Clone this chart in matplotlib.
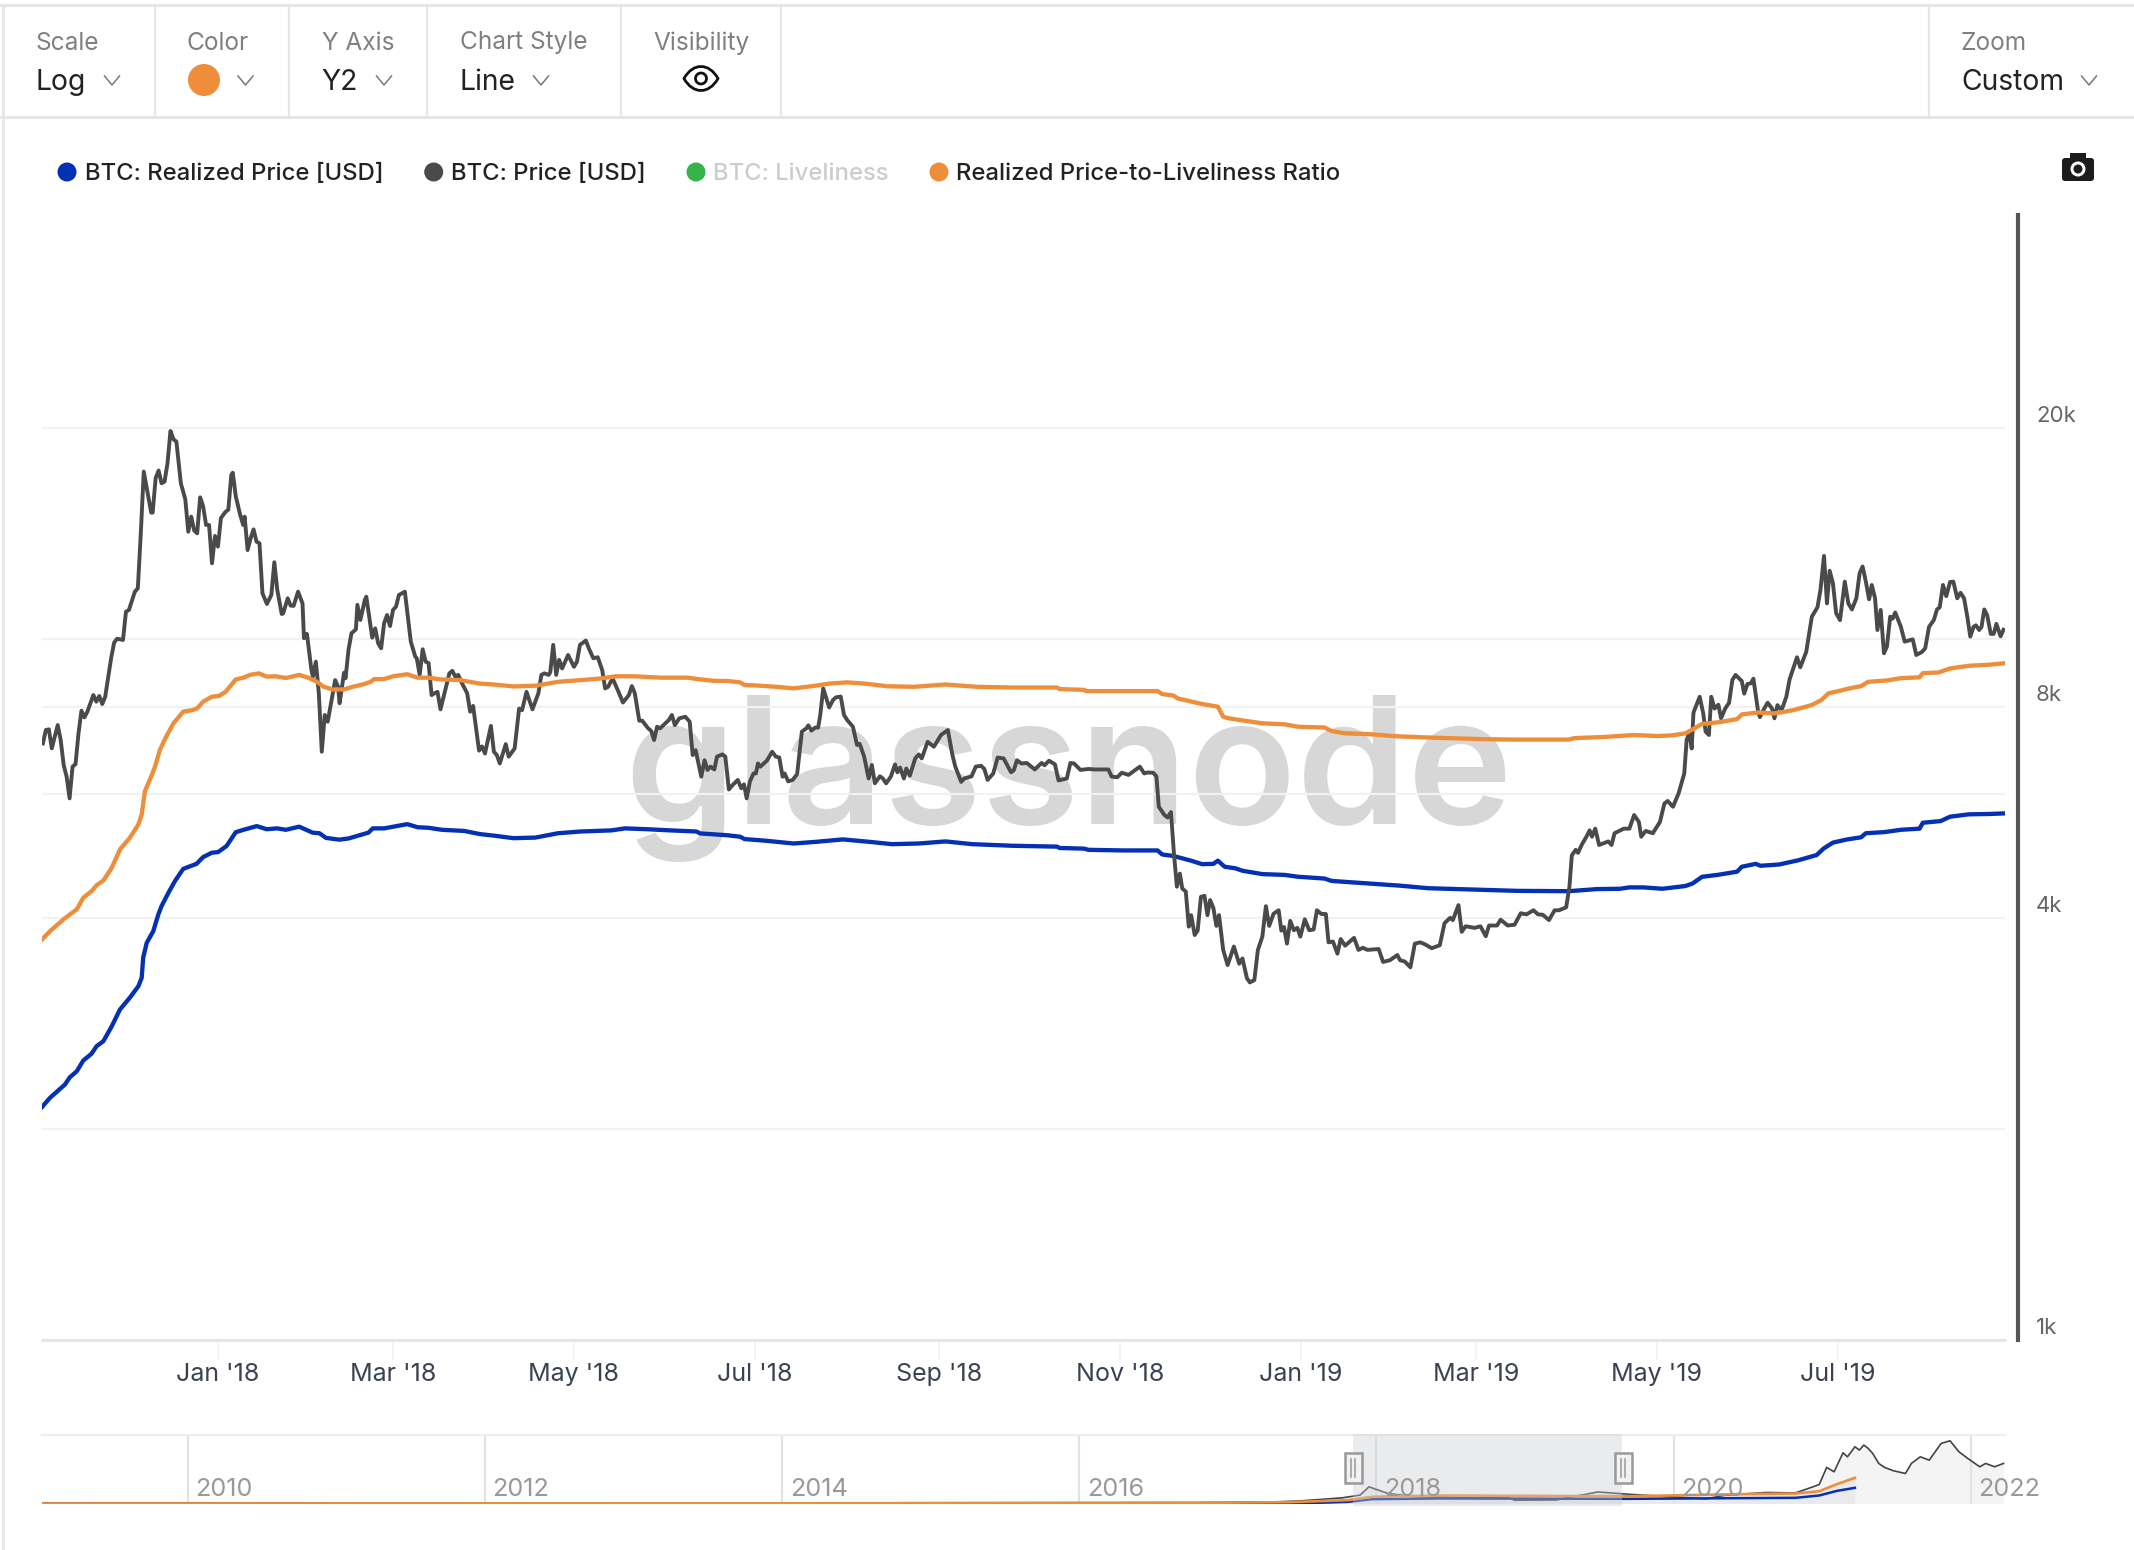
import matplotlib
matplotlib.use("Agg")
import matplotlib.pyplot as plt
import numpy as np
import pandas as pd
from matplotlib.patches import Rectangle, Circle, FancyBboxPatch, PathPatch
from matplotlib.path import Path
from matplotlib.ticker import FixedLocator, NullFormatter, NullLocator

plt.rcParams['font.family'] = ['Inter', 'DejaVu Sans']

price_days = [-59,-58,-57,-56,-54,-53,-52,-51,-50,-49,-48,-47,-46,-45,-44,-42,-41,-40,-39,-38,-36,-35,-34,-32,-31,-30,-28,-27,-26,-25,-23.5,-22.5,-22,-21,-20,-19,-18,-17,-16,-15,-14,-12.5,-11,-10,-9,-8,-7,-6,-5,-4,-3,-2,-1,0,1,2.5,3.5,4.5,5,6,7.5,8.5,9,10,11,12,13,14,15,16.5,18,19,20,21.5,22,23.5,24.5,25.5,27,28.5,29,30,31.5,32,33,34,35,36,37,39.5,40.5,41,42.5,43,44,45,46.5,47,48,49.5,50,52,53,54,55,56,57,58,59,60,61,63,64,65,66.5,67,68,69,70,71,72,73,74,75,78,79,80,81,82,84,85,86,87.5,88,89,90,92,93,94,95,97,98,100,101.5,102.5,104,106,108,109,110,111.5,112,113,114,115,116,118,120,121,122,124,125,126.5,128,129.5,130.5,131.5,133,135,136.5,138.5,139.5,140.5,142,143,145,146,147,148,149,152,153,154,155.5,157.5,159,160,161,
 162.9,164,165,166,167.3,168.2,170,171,172.2,173.3,175.2,176.4,177.3,178.2,179.3,180.5,181.3,182,182.8,185,186.8,188,189.2,190.3,191,192.2,193.7,195.2,196.8,198.3,199,200,201.3,202.3,203,204,206,207.3,208.3,209.9,211,212.1,214,215.4,216.3,217.8,219.3,220.4,221.4,223.1,224.1,225.2,226.8,228.2,229,229.9,231.2,232,233.2,235,236.2,237.2,239.2,241.3,243.7,246,247.5,248.5,249.4,250.5,251.5,254,255.4,257.2,258.3,259.4,261.3,262.8,264.8,267.3,268.2,269.3,270.8,272.6,275.3,277.6,278.6,280.1,282.1,283.3,286.1,287.3,288.5,290.7,293.4,295.6,300.1,301.2,303.1,304.6,306.9,310.7,312.2,313.2,315.2,316.3,317.1,319,320.1,321.2,322.2,323.2,324.2,325,326.2,327.2,328,329.2,330.2,331.3,332.5,333.5,334.4,335.5,336.5,337.4,338.8,340.3,342.4,344.2,345.3,346.8,347.8,349.3,350.5,352,353.2,354.3,355.8,357.5,358.4,359.3,360.3,361.4,362.6,363.8,364.8,366.3,367.8,369.3,370.4,371.9,373.4,374.3,375.8,377.3,378.4,379.9,382.9,384.4,385.9,387.4,391.2,392.7,395,397.5,
 398.4,400,401.9,403.4,405.2,406.6,409.1,411.8,413.4,415.3,416.2,418.1,419.2,420.5,423.6,425.5,427.3,428.4,431.1,432.3,434.7,437,439.1,441,443.4,444.9,446.5,448.6,450.5,452,454.4,455.5,456.3,457.6,458.4,459.6,461.2,462.3,463.1,464.2,465.5,468.6,469.7,470.7,473.8,475.7,477.3,478.9,479.7,481.2,483.6,486,487.5,488.6,490.4,492.3,494.2,495,495.9,496.7,497.3,499.4,500.6,501.4,502.5,503.3,504.4,505.7,506.6,508,509.3,510.4,511.5,513.6,514.4,515.5,516.7,517.5,519.1,519.7,520.4,522.3,523.8,524.6,525.6,527,528.6,529.7,532.2,533.3,535.3,537.2,539.1,540.1,541.3,542.3,543.2,544.3,545.4,546.7,548.3,549.5,550.7,552.2,553.3,554.3,555.4,556.5,557.4,558.5,559.3,560.4,561.5,562.5,563.6,564.4,565.3,567.2,568.5,571.2,572.4,574.3,575.4,576.7,578.3,579.4,580.3,581.4,582.5,583.8,584.9,586.2,587.3,588.5,589.6,590.6,591.7,592.5,593.6,594.4,595.3,596.3,597.5,598.5,599.4,600.8,601.8]
price_usd = [7091,7410,7427,6976,7532,7170,6606,6357,5921,6569,6626,7329,7895,7724,7870,8312,8133,8286,8070,8267,9378,9871,10000,9960,10930,10990,11672,11800,14136,17312,15960,15130,15130,16940,17370,16660,16750,17790,19780,19250,19100,16660,15800,14210,14930,14260,14136,15910,15450,14530,14530,12810,14014,13530,14860,15160,15280,17120,17250,15970,15015,14530,14930,13380,13900,14320,13755,13680,11610,11210,11545,12855,11735,10845,10870,11420,11150,11140,11670,11230,10015,10160,9025,8830,9275,8360,6900,7785,7615,8730,8540,8090,8945,8780,9640,10180,10315,11175,10635,11355,11480,10035,10345,9850,9690,10520,10810,10425,10990,11110,11545,11670,10750,9905,9430,9380,8880,9660,9275,9230,8310,8360,8400,7930,8925,9000,8830,8880,8680,8360,7870,8020,7170,6925,7020,6860,7510,6900,6825,6640,7075,6790,6976,7950,7910,8400,7930,8360,8880,8925,8880,8960,9800,8880,9330,9070,9480,9120,9275,9800,9940,9690,9380,9410,9025,8495,8540,8780,8400,8110,8310,8560,8360,7640,7640,7450,7390,7170,7490,7450,7660,7785,7530,7700,7740,7615,6825,6936,
 6357,6710,6500,6570,6510,6790,6840,6790,6095,6175,6290,6120,6200,5920,6260,6425,6425,6640,6570,6700,6900,6790,6770,6357,6425,6260,6290,6410,7370,7450,7525,7395,7470,7470,7785,8496,7980,8177,8250,8270,7785,7655,7490,7055,7080,6790,6320,6606,6220,6365,6320,6220,6360,6620,6450,6550,6320,6530,6380,6750,6840,6750,7130,7015,7290,7410,6840,6575,6425,6250,6320,6365,6570,6590,6520,6290,6425,6770,6750,6450,6490,6710,6640,6650,6510,6650,6600,6700,6620,6280,6320,6650,6640,6500,6520,6510,6510,6360,6345,6440,6395,6570,6425,6445,6440,6365,5760,5605,5560,5660,4940,4430,4625,4405,4360,3885,4035,3780,3835,4285,4300,4035,4240,4130,3895,4035,3600,3425,3640,3440,3500,3280,3235,3260,3600,3760,4155,3895,4055,4100,3835,3880,3675,3960,3840,3870,3760,3980,3840,3850,4100,4050,4050,3690,3700,3555,3730,3650,3745,3600,3625,3600,3610,3460,3480,3540,
 3480,3465,3400,3675,3690,3670,3620,3655,3930,4000,3970,4170,3820,3890,3870,3890,3765,3900,3900,3975,3900,3910,4060,4045,4100,4045,4040,3970,4100,4100,4140,4430,4910,5000,4950,5080,5218,5330,5220,5360,5080,5140,5080,5280,5360,5360,5605,5480,5220,5320,5280,5480,5820,5870,5760,6020,6425,7170,7355,6975,7845,8265,7825,7370,7290,8265,7950,8050,7700,7950,8105,8730,8880,8700,8350,8620,8640,8770,7870,7730,7850,8105,7950,7700,8040,7910,8265,8750,9410,9105,9575,10750,11090,11735,13125,11230,12500,12000,10870,10630,12060,11230,11010,11420,12400,12675,12060,11380,11930,11420,10290,10990,9535,9745,10750,10680,10900,10400,9905,9980,9480,9575,9690,10400,10630,11010,11090,11930,11500,12050,12060,11420,11630,11420,10750,10070,10400,10450,10290,10400,11010,10800,10160,10160,10500,10080,10300]

ratio_days = [-59.3,-56.6,-52.1,-49.9,-47.6,-45.4,-42.6,-40.9,-38.6,-35.8,-33,-29.7,-26.8,-25.7,-24.6,-22.9,-21.2,-19.6,-17.5,-15,-11.7,-8.7,-7,-5,-2,0.3,2.6,6,8.6,10.8,13.8,16.4,19.4,22.9,27.4,30.4,33.4,35.7,38.7,42.4,45.4,49.2,51.5,52.7,56,59,63.8,67.3,71,74.8,81.6,88.3,93.6,99.6,107,114.6,122.2,128.2,134.2,140.2,149.3,158.3,
 162.5,167,171.5,176,177.5,182,188,194,200,206,212,218,225.6,234.7,245.2,255.7,267.8,282.8,283.7,291.9,292.6,300.9,316.7,318.2,322,323.5,331.7,337,338.8,340.8,344.5,352,359.5,364,373,375.3,379.9,388,397.1,
 407.9,417.3,426.8,437.8,455.2,457.1,467.8,477.3,485.2,489.9,494.6,497,500.2,505.7,512,513.6,519.1,524.6,531,537.2,540.4,542.8,546.7,549.9,553.8,556.2,562.5,567.2,573.5,574.6,579.8,583.8,590.1,597.2,601.9]
ratio_usd = [3725,3828,3978,4044,4111,4272,4365,4451,4521,4714,5007,5201,5435,5617,6064,6302,6570,6935,7245,7575,7870,7910,7955,8133,8267,8286,8400,8750,8800,8880,8925,8830,8840,8790,8880,8800,8680,8540,8465,8465,8540,8615,8680,8760,8760,8840,8900,8800,8800,8750,8730,8630,8600,8550,8570,8680,8730,8770,8840,8840,8800,8800,
 8750,8710,8705,8665,8590,8575,8540,8496,8555,8630,8665,8630,8555,8540,8605,8540,8520,8520,8475,8455,8420,8420,8420,8340,8300,8220,8070,8000,7740,7700,7655,7575,7550,7490,7470,7385,7330,7310,7260,
 7230,7210,7190,7180,7180,7215,7245,7290,7265,7280,7330,7425,7560,7600,7680,7800,7850,7825,7910,8045,8175,8360,8430,8495,8560,8680,8720,8785,8810,8930,8950,9070,9150,9185,9225]

realized_days = [-59.3,-56.6,-51.6,-49.9,-47.6,-45.4,-42.6,-40.9,-38.6,-35.8,-33,-29.7,-26.8,-25.7,-25.2,-24,-21.8,-20.1,-19,-16.7,-14.5,-11.7,-7.2,-5,-2.1,0.1,2.9,6,8.6,13.1,16.4,19.9,22.9,27.4,31.9,34.2,36.4,40.9,44,50.7,52.2,56,63.8,67.3,71,75.5,83,88.3,93.6,99.6,107,114.6,122.2,132.7,137.2,144.7,152.3,161.3,
 162.5,171.5,176,177.5,185,194,201.6,210.6,219.6,227.1,236.2,245.2,254.2,267.8,282.8,283.7,291.9,293.4,305.4,316.7,318.2,322,328,331.7,335.5,337,339.3,343,345.3,352,359.5,364,373,375.3,388,398.4,
 407.9,422,437.8,455.2,464.7,472.6,475.7,480.4,486.8,494.6,497,500.2,505.7,512,513.6,518.3,519.9,526.2,532.5,538.8,541.2,544.3,549,553.8,555.4,561.7,567.2,573.5,574.6,580.6,583.8,590.1,597.2,601.9]
realized_usd = [2149,2215,2313,2370,2416,2503,2560,2624,2668,2801,2961,3077,3196,3285,3509,3685,3828,4044,4157,4342,4512,4697,4776,4882,4952,4964,5064,5298,5340,5405,5350,5365,5340,5395,5290,5280,5200,5170,5190,5290,5365,5365,5440,5385,5375,5340,5320,5265,5235,5195,5205,5280,5310,5330,5365,5350,5330,5310,
 5277,5246,5220,5180,5150,5105,5133,5174,5133,5094,5105,5140,5094,5067,5053,5030,5020,5000,4990,4990,4925,4900,4825,4770,4775,4825,4730,4705,4668,4617,4605,4577,4550,4515,4477,4445,
 4408,4390,4370,4365,4395,4400,4420,4420,4400,4440,4477,4576,4607,4654,4730,4775,4745,4765,4830,4915,5023,5120,5173,5210,5280,5300,5340,5360,5465,5495,5575,5618,5625,5635]

y_grid = [1000, 2000, 4000, 6000, 8000, 10000, 20000]
y_labels = {1000: '1k', 4000: '4k', 8000: '8k', 20000: '20k'}
x_tick_dates = ['2018-01-01','2018-03-01','2018-05-01','2018-07-01','2018-09-01','2018-11-01','2019-01-01','2019-03-01','2019-05-01','2019-07-01']
x_tick_labels = ["Jan '18","Mar '18","May '18","Jul '18","Sep '18","Nov '18","Jan '19","Mar '19","May '19","Jul '19"]

nav_price_years = [2009.02,2013.0,2014.0,2015.5,2016.81,2017.33,2017.49,2017.65,2017.77,2017.89,2017.95,2018.01,2018.08,2018.25,2018.57,2018.89,2018.93,2019.21,2019.49,2019.69,2019.98,2020.22,2020.34,2020.62,2020.82,2020.94,2020.98,2021.03,2021.08,2021.14,2021.17,2021.22,2021.25,2021.28,2021.31,2021.34,2021.38,2021.42,2021.48,2021.56,2021.6,2021.66,2021.72,2021.8,2021.86,2021.92,2021.98,2022.06,2022.1,2022.16,2022.22]
nav_price_usd = [0,100,500,250,700,1800,2800,4650,6100,9000,17900,14500,10700,7500,6500,6200,3500,3800,12400,10000,7200,5000,8700,11800,11400,18000,20400,38700,34000,54400,50100,60900,57300,62700,59000,53700,43000,38700,35100,32200,43000,50100,46500,64400,67300,55500,48300,39400,43000,39400,43000]
nav_ratio_years = [2009.02,2014.0,2016.81,2017.41,2017.81,2017.97,2018.42,2019.70,2020.42,2020.82,2020.98,2021.1,2021.22]
nav_ratio_usd = [50,250,700,1400,3580,7160,8590,7800,10000,10700,13200,20800,27500]
nav_realized_years = [2009.02,2014.0,2017.61,2017.81,2017.97,2018.42,2019.7,2020.82,2020.98,2021.1,2021.22]
nav_realized_usd = [0,150,700,1790,4650,5400,5000,6090,8590,13600,16800]
nav_year_ticks = [2010,2012,2014,2016,2018,2020,2022]

# ---- styles ----
W, H = 2134, 1550
BLUE, DARK, GREEN, ORANGE = '#0431b4', '#4a4a4a', '#36b44a', '#ee8e3a'
LINE = '#e6e6e6'; GRID = '#f2f2f2'
FS = 17.2

def to_dates(days):
    return pd.Timestamp('2018-01-01') + pd.to_timedelta(np.asarray(days, float), unit='D')

def rect(x0, y0, x1, y1):
    return [x0 / W, 1 - y1 / H, (x1 - x0) / W, (y1 - y0) / H]

fig = plt.figure(figsize=(W / 100, H / 100), dpi=100, facecolor='white')

# ---- UI overlay, in image pixels ----
ui = fig.add_axes([0, 0, 1, 1], zorder=0)
ui.set_xlim(0, W); ui.set_ylim(H, 0); ui.axis('off')
ui.plot([0, W], [5, 5], color=LINE, lw=2.2)
ui.plot([0, W], [117, 117], color=LINE, lw=2.2)
ui.plot([3, 3], [5, H], color=LINE, lw=2.0)
for xd in [155, 289, 427, 620.5, 781, 1929]:
    ui.plot([xd, xd], [5, 117], color=LINE, lw=1.6)
for x, lab in [(35.5, 'Scale'), (187, 'Color'), (321.5, 'Y Axis'), (460, 'Chart Style'), (653, 'Visibility'), (1961, 'Zoom')]:
    ui.text(x, 43, lab, fontsize=17.6, color='#808080', va='center', ha='left')
for x, lab in [(36, 'Log'), (321.5, 'Y2'), (460, 'Line'), (1961, 'Custom')]:
    ui.text(x, 82.5, lab, fontsize=20.4, color='#222222', va='center', ha='left')
for xc in [112, 245.5, 384, 541, 2089]:
    ui.plot([xc - 7.5, xc, xc + 7.5], [76, 85, 76], color='#777777', lw=1.1)
ui.add_patch(Circle((204, 80), 16, color=ORANGE, lw=0))
# eye
ex, ey = 701, 78.5
eye = Path([(ex - 17, ey), (ex - 8, ey - 16), (ex + 8, ey - 16), (ex + 17, ey), (ex + 8, ey + 16), (ex - 8, ey + 16), (ex - 17, ey), (ex - 17, ey)],
           [Path.MOVETO, Path.CURVE4, Path.CURVE4, Path.CURVE4, Path.CURVE4, Path.CURVE4, Path.CURVE4, Path.CLOSEPOLY])
ui.add_patch(PathPatch(eye, fc='none', ec='#111111', lw=2.0))
ui.add_patch(Circle((ex, ey), 5.5, fc='none', ec='#111111', lw=2.0))
# legend
for x, c, tx, lab, tc in [(67, BLUE, 85, 'BTC: Realized Price [USD]', '#222222'),
                          (433.7, DARK, 451, 'BTC: Price [USD]', '#222222'),
                          (696, GREEN, 713, 'BTC: Liveliness', '#cccccc'),
                          (939, ORANGE, 955.5, 'Realized Price-to-Liveliness Ratio', '#222222')]:
    ui.add_patch(Circle((x, 172), 9.5, color=c, lw=0))
    ui.text(tx, 174, lab, fontsize=FS, color=tc, va='center', ha='left', fontweight='medium')
# camera
ui.add_patch(FancyBboxPatch((2062, 158), 32, 23, boxstyle='round,pad=0,rounding_size=3', fc='#1c1c1c', ec='none'))
ui.add_patch(Rectangle((2070, 153), 16, 6, fc='#1c1c1c', ec='none'))
ui.add_patch(Circle((2078, 169), 7.5, fc='white', ec='none'))
ui.add_patch(Circle((2078, 169), 4.5, fc='#1c1c1c', ec='none'))

# ---- main chart ----
ax = fig.add_axes(rect(42, 215, 2005, 1340), zorder=2)
ax.patch.set_alpha(0)
ax.set_yscale('log')
ax.set_xlim(to_dates([-59.3])[0], to_dates([602.3])[0])
ax.set_ylim(1000, 40200)
for s in ['left', 'top']:
    ax.spines[s].set_visible(False)
ax.spines['bottom'].set_color(LINE); ax.spines['bottom'].set_linewidth(2.0)
ax.spines['right'].set_color('#555555'); ax.spines['right'].set_linewidth(3.0)
ax.spines['right'].set_position(('outward', 9.4))
ax.yaxis.set_major_locator(FixedLocator(y_grid))
ax.yaxis.set_major_formatter(NullFormatter())
ax.yaxis.set_minor_locator(NullLocator())
ax.yaxis.set_minor_formatter(NullFormatter())
ax.tick_params(axis='y', length=0)
for v, lab in y_labels.items():
    ax.annotate(lab, (1, v), xycoords=('axes fraction', 'data'), xytext=(22.3, 8.4), textcoords='offset points',
                fontsize=16, color='#666666', va='center', ha='left', annotation_clip=False)
ax.grid(axis='y', color=GRID, lw=1.6, zorder=0)
ax.set_xticks(pd.to_datetime(x_tick_dates))
ax.set_xticklabels(x_tick_labels)
ax.tick_params(axis='x', length=14.4, width=1.2, color=GRID, pad=2.5, labelsize=18, labelcolor='#3a4252')
ax.text(0.5227, 0.4587, 'glassnode', transform=ax.transAxes, fontsize=128, color='#bdbdbd', alpha=0.6,
        ha='center', va='baseline', zorder=1, fontweight='semibold')
ax.plot(to_dates(realized_days), realized_usd, color=BLUE, lw=3.1, zorder=3, solid_joinstyle='round')
ax.plot(to_dates(price_days), price_usd, color=DARK, lw=2.8, zorder=4, solid_joinstyle='round')
ax.plot(to_dates(ratio_days), ratio_usd, color=ORANGE, lw=3.1, zorder=5, solid_joinstyle='round')

# ---- navigator ----
nav = fig.add_axes(rect(42, 1435, 2005, 1503.5), zorder=2)
nav.patch.set_alpha(0)
nav.set_xlim(2009.02, 2022.23)
nav.set_ylim(0, 73500)
for s in ['left', 'right', 'bottom']:
    nav.spines[s].set_visible(False)
nav.spines['top'].set_color('#eeeeee'); nav.spines['top'].set_linewidth(1.6)
nav.set_xticks(nav_year_ticks); nav.set_yticks([])
nav.tick_params(axis='x', length=0, labelbottom=False)
nav.grid(axis='x', color='#e2e2e2', lw=1.5, zorder=0)
nav.fill_between(nav_price_years, nav_price_usd, color='#f4f4f4', lw=0, zorder=1)
nav.fill_between(nav_ratio_years, nav_ratio_usd, color='#e8e8ec', alpha=0.8, lw=0, zorder=1.2)
nav.plot(nav_price_years, nav_price_usd, color='#444444', lw=1.2, zorder=3)
nav.plot(nav_realized_years, nav_realized_usd, color=BLUE, lw=1.8, zorder=3.2)
nav.plot(nav_ratio_years, nav_ratio_usd, color=ORANGE, lw=1.9, zorder=3.4)
for yr in nav_year_ticks:
    nav.annotate(str(yr), (yr, 0), xytext=(5.5, 10.3), textcoords='offset points', fontsize=18.2,
                 color='#999999', va='center', ha='left', zorder=6, annotation_clip=False)
sel0, sel1 = 2017.84, 2019.65
nav.add_patch(Rectangle((sel0, -2200), sel1 - sel0, 76700, fc='#c9ccd2', alpha=0.38, ec='none', zorder=5, clip_on=False))
ui2 = fig.add_axes([0, 0, 1, 1], zorder=3)
ui2.set_xlim(0, W); ui2.set_ylim(H, 0); ui2.axis('off'); ui2.patch.set_alpha(0)
for xh in [1353, 1623]:
    ui2.add_patch(Rectangle((xh - 8.5, 1453), 17, 30, fc='#f2f2f2', ec='#999999', lw=1.8))
    ui2.plot([xh - 2, xh - 2], [1459, 1477], color='#999999', lw=1.1)
    ui2.plot([xh + 2, xh + 2], [1459, 1477], color='#999999', lw=1.1)

fig.savefig('out.png', dpi=100)
